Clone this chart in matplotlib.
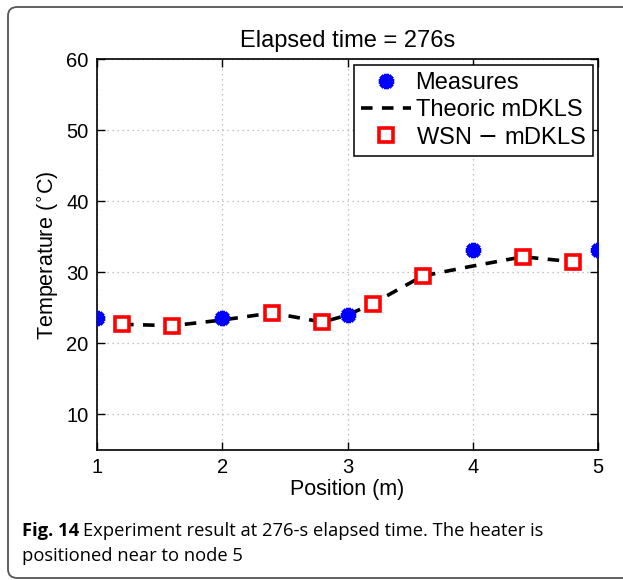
import matplotlib.pyplot as plt
from matplotlib.patches import FancyBboxPatch

plt.rcParams['font.family'] = ['Liberation Sans', 'DejaVu Sans']

# Sensor measurements at the node positions
pos_measure = [1, 2, 3, 4, 5]
temp_measure = [23.6, 23.6, 24.0, 33.1, 33.1]

# Theoretical mDKLS estimate
pos_theory = [1.2, 1.6, 2.0, 2.4, 2.8, 3.0, 3.2, 3.6, 4.0, 4.4, 4.8]
temp_theory = [22.7, 22.5, 23.3, 24.3, 23.0, 24.0, 25.6, 29.5, 30.9, 32.2, 31.5]

# WSN based mDKLS estimate
pos_wsn = [1.2, 1.6, 2.4, 2.8, 3.2, 3.6, 4.4, 4.8]
temp_wsn = [22.7, 22.5, 24.3, 23.0, 25.6, 29.5, 32.2, 31.5]

fig = plt.figure(figsize=(6.23, 5.80), dpi=100)
ax = fig.add_axes([0.1557, 0.2241, 0.8043, 0.6737])

ax.plot(pos_measure, temp_measure, linestyle='none', marker=(8, 2, 0),
        markersize=11, markeredgewidth=3.5, color='blue', label='Measures', zorder=4)
ax.plot(pos_theory, temp_theory, linestyle=(0, (3.2, 2.6)), linewidth=2.6,
        color='black', label='Theoric mDKLS', zorder=3)
ax.plot(pos_wsn, temp_wsn, linestyle='none', marker='s', markersize=10,
        markeredgewidth=2.6, markerfacecolor='white', markeredgecolor='red',
        label='WSN $-$ mDKLS', zorder=5)

ax.set_xlim(1, 5)
ax.set_ylim(5, 60)
ax.set_xticks([1, 2, 3, 4, 5])
ax.set_yticks([10, 20, 30, 40, 50, 60])
ax.grid(True, linestyle=(0, (1, 3)), color='#b0b0b0', linewidth=0.9)
ax.tick_params(direction='in', length=6, width=1, top=True, right=True,
               labelsize=14.5, pad=6)
for sp in ax.spines.values():
    sp.set_linewidth(1.2)

ax.set_title('Elapsed time = 276s', fontsize=17, pad=9)
ax.set_xlabel('Position (m)', fontsize=15.5, labelpad=1)
ax.set_ylabel(r'Temperature ($^{\circ}$C)', fontsize=15.5, labelpad=4)

leg = ax.legend(loc='upper right', bbox_to_anchor=(0.99, 0.985), fontsize=17,
                fancybox=False, framealpha=1, edgecolor='black',
                handlelength=2.1, handletextpad=0.2, borderpad=0.3,
                labelspacing=0.22, borderaxespad=0)
leg.get_frame().set_linewidth(1.1)

# rounded frame around the figure and its caption
frame = FancyBboxPatch((8 / 623, 2 / 580), 700 / 623, 571 / 580,
                       boxstyle='round,pad=0,rounding_size=0.015',
                       transform=fig.transFigure, facecolor='none',
                       edgecolor='#555555', linewidth=1.3)
fig.patches.append(frame)

cap_font = ['Open Sans', 'DejaVu Sans']
cap_size = 13.2
t1 = fig.text(22 / 623, 1 - 536 / 580, 'Fig. 14', fontsize=cap_size, fontweight='bold',
              family=cap_font, va='baseline')
fig.canvas.draw()
bb = t1.get_window_extent()
fig.text(bb.x1 / fig.bbox.width + 4 / 623, 1 - 536 / 580,
         'Experiment result at 276-s elapsed time. The heater is',
         fontsize=cap_size, family=cap_font, va='baseline')
fig.text(22 / 623, 1 - 561 / 580, 'positioned near to node 5',
         fontsize=cap_size, family=cap_font, va='baseline')

fig.savefig('out.png', dpi=100)
